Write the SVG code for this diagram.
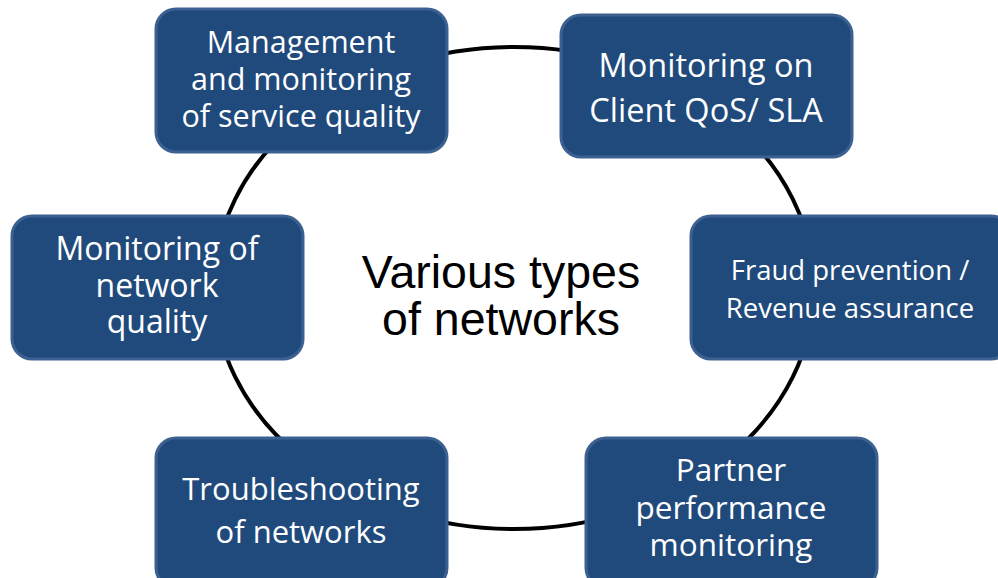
<svg xmlns="http://www.w3.org/2000/svg" width="998" height="578" viewBox="0 0 998 578">
<style>
.box{fill:#204a7c;stroke:#3c6191;stroke-width:3}
.t{font-family:"Open Sans","Noto Sans","Liberation Sans",sans-serif;fill:#ffffff;text-anchor:middle;font-size:30.5px}
.c{font-family:"Liberation Sans",Arial,sans-serif;font-size:46.5px;fill:#000000;text-anchor:middle}
</style>
<rect width="998" height="578" fill="#ffffff"/>
<g id="connectors">
<ellipse cx="514" cy="288" rx="300" ry="241" fill="none" stroke="#000000" stroke-width="4"/>
</g>
<g id="center">
<text class="c" x="501" y="288">Various types</text>
<text class="c" x="501" y="335">of networks</text>
</g>
<g id="n1">
<rect class="box" x="156" y="9" width="291" height="143" rx="20"/>
<text class="t" x="301" y="53">Management</text>
<text class="t" x="301" y="90">and monitoring</text>
<text class="t" x="301" y="127">of service quality</text>
</g>
<g id="n2">
<rect class="box" x="561" y="15" width="291" height="142" rx="20"/>
<text class="t" style="font-size:32.5px" x="706" y="77">Monitoring on</text>
<text class="t" style="font-size:32.5px" x="706" y="122">Client QoS/ SLA</text>
</g>
<g id="n3">
<rect class="box" x="12" y="216" width="291" height="143" rx="20"/>
<text class="t" style="font-size:32px" x="157" y="260">Monitoring of</text>
<text class="t" style="font-size:32px" x="157" y="297">network</text>
<text class="t" style="font-size:32px" x="157" y="333">quality</text>
</g>
<g id="n4">
<rect class="box" x="691" y="216" width="320" height="143" rx="20"/>
<text class="t" style="font-size:27.5px" x="850" y="280">Fraud prevention /</text>
<text class="t" style="font-size:27.5px" x="850" y="318">Revenue assurance</text>
</g>
<g id="n5">
<rect class="box" x="156" y="438" width="291" height="150" rx="20"/>
<text class="t" style="font-size:31px" x="301" y="500">Troubleshooting</text>
<text class="t" style="font-size:31px" x="301" y="543">of networks</text>
</g>
<g id="n6">
<rect class="box" x="586" y="438" width="291" height="150" rx="20"/>
<text class="t" style="font-size:31.5px" x="731" y="481">Partner</text>
<text class="t" style="font-size:31.5px" x="731" y="519">performance</text>
<text class="t" style="font-size:31.5px" x="731" y="556">monitoring</text>
</g>
</svg>
